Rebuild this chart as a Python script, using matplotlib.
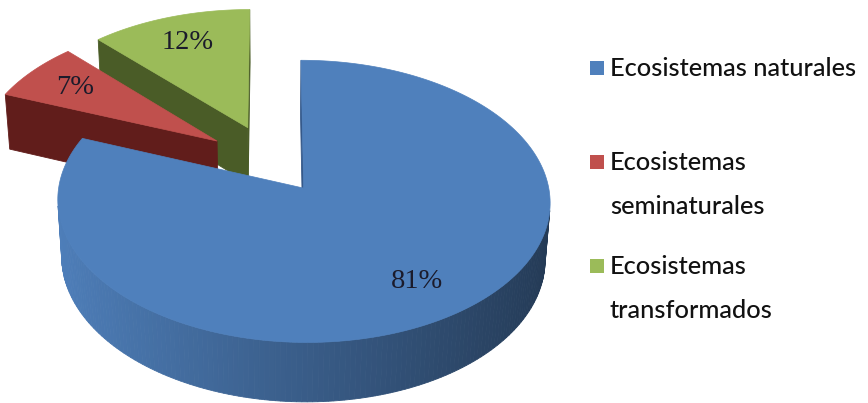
import numpy as np
import matplotlib.pyplot as plt
from matplotlib.patches import Polygon, Rectangle

# datos del grafico
categorias = ['Ecosistemas naturales', 'Ecosistemas\nseminaturales', 'Ecosistemas\ntransformados']
porcentajes = [81, 7, 12]
etiquetas = ['81%', '7%', '12%']
separacion = [0.23, 0.28, 0.28]
colores = ['#4f80bc', '#c0504d', '#9bbb59']
colores_corte = ['#35598a', '#611d1b', '#4a5c27']

# camara para la vista 3D (en pixeles de la figura)
W, H = 868, 403
elev = np.radians(34.1)
dist = 9.0
escala = 2167.0
cx, cy = 272.0, 162.0
grosor = 0.287
s_e, c_e = np.sin(elev), np.cos(elev)
camara = np.array([0.0, -dist * c_e, dist * s_e])


def proyectar(p):
    p = np.atleast_2d(p)
    x, y, z = p[:, 0], p[:, 1], p[:, 2]
    prof = dist + y * c_e - z * s_e
    return np.column_stack([cx + escala * x / prof, cy - escala * (y * s_e + z * c_e) / prof])


def direccion(t):
    return np.array([np.sin(t), np.cos(t), 0.0])


def tono(color, f):
    rgb = np.array(plt.matplotlib.colors.to_rgb(color))
    return tuple(np.clip(rgb * f, 0, 1))


fig = plt.figure(figsize=(W / 100, H / 100), dpi=100)
ax = fig.add_axes([0, 0, 1, 1])
ax.set_xlim(0, W)
ax.set_ylim(H, 0)
ax.axis('off')

fr = np.array(porcentajes) / sum(porcentajes)
bordes = np.concatenate([[0], np.cumsum(fr)]) * 2 * np.pi
abajo = np.array([0, 0, -grosor])

porciones = []
for i in range(len(porcentajes)):
    t0, t1 = bordes[i], bordes[i + 1]
    tm = (t0 + t1) / 2
    o = separacion[i] * direccion(tm)
    alfa = t1 - t0
    cent = o + 4 * np.sin(alfa / 2) / (3 * alfa) * direccion(tm)
    porciones.append((np.linalg.norm(cent - camara), i, t0, t1, tm, o))

# de atras hacia delante
porciones.sort(key=lambda q: -q[0])

for _, i, t0, t1, tm, o in porciones:
    caras = []
    ts = np.linspace(t0, t1, max(int((t1 - t0) / 0.02), 2))
    # pared exterior
    for a, b in zip(ts[:-1], ts[1:]):
        pa, pb = o + direccion(a), o + direccion(b)
        m = (a + b) / 2
        n = direccion(m)
        pm = o + direccion(m)
        if np.dot(camara - pm, n) <= 0:
            continue
        quad = np.array([pa, pb, pb + abajo, pa + abajo])
        f = 0.72 - 0.27 * n[0]
        caras.append((np.linalg.norm(pm - camara), quad, tono(colores[i], f)))
    # caras del corte
    for t, n in [(t0, np.array([-np.cos(t0), np.sin(t0), 0])),
                 (t1, np.array([np.cos(t1), -np.sin(t1), 0]))]:
        pe = o + direccion(t)
        if np.dot(camara - (o + pe) / 2, n) <= 0:
            continue
        quad = np.array([o, pe, pe + abajo, o + abajo])
        caras.append((np.linalg.norm((o + pe) / 2 - camara), quad, colores_corte[i]))
    caras.sort(key=lambda q: -q[0])
    for _, quad, col in caras:
        ax.add_patch(Polygon(proyectar(quad), closed=True, facecolor=col,
                             edgecolor=col, lw=0.6))
    # cara superior
    tapa = np.vstack([o] + [o + direccion(t) for t in ts])
    ax.add_patch(Polygon(proyectar(tapa), closed=True, facecolor=colores[i],
                         edgecolor=colores[i], lw=0.5))
    # porcentaje
    px, py = proyectar(o + 0.76 * direccion(tm))[0]
    ax.text(px, py, etiquetas[i], ha='center', va='center', fontsize=20.5,
            family='Liberation Serif', color='#1b1b2b')

# leyenda
filas = [68, 162, 266]
for i, nombre in enumerate(categorias):
    y0 = filas[i]
    ax.add_patch(Rectangle((590, y0 - 7), 14, 14, facecolor=colores[i], edgecolor='none'))
    for j, linea in enumerate(nombre.split('\n')):
        ax.text(610, y0 + 45 * j, linea, ha='left', va='center', fontsize=18.3,
                family='Lato', fontweight='medium', color='#111111')

fig.savefig('out.png', dpi=100)
